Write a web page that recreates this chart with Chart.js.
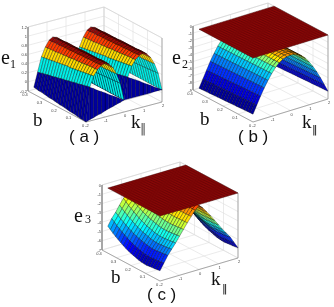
<!DOCTYPE html>
<html>
<head>
<meta charset="utf-8">
<script src="https://cdn.jsdelivr.net/npm/chart.js@4"></script>
<style>
  html, body { margin: 0; padding: 0; background: #fff; }
  #wrap { width: 334px; height: 307px; }
  canvas { display: block; filter: blur(0.45px); }
</style>
</head>
<body>
<div id="wrap"><canvas id="surfaceChart" width="334" height="307"></canvas></div>
<script>
const kValues = [-2,-1.8,-1.6,-1.4,-1.2,-1,-0.8,-0.6,-0.4,-0.2,0,0.2,0.4,0.6,0.8,1,1.2,1.4,1.6,1.8,2];
const bValues = [0,0.018,0.036,0.054,0.072,0.09,0.108,0.126,0.144,0.162,0.18,0.198,0.216,0.234,0.252,0.27,0.288,0.306,0.324,0.342,0.36];

const planeK = [-2,-1.84,-1.68,-1.52,-1.36,-1.2,-1.04,-0.88,-0.72,-0.56,-0.4,-0.24,-0.08,0.08,0.24,0.4,0.56,0.72,0.88,1.04,1.2,1.36,1.52,1.68,1.84,2];
const planeB = [0,0.0144,0.0288,0.0432,0.0576,0.072,0.0864,0.1008,0.1152,0.1296,0.144,0.1584,0.1728,0.1872,0.2016,0.216,0.2304,0.2448,0.2592,0.2736,0.288,0.3024,0.3168,0.3312,0.3456,0.36];
const e2Plane = 0;
const e3Plane = 0;

const kTicks = [-2,-1,0,1,2];
const bTicks = [0,0.1,0.2,0.3,0.4];
const e1Ticks = [-0.2,0,0.2,0.4,0.6,0.8,1,1.2];
const e2Ticks = [-9,-8,-7,-6,-5,-4,-3,-2,-1,0];
const e3Ticks = [-7,-6,-5,-4,-3,-2,-1,0];

const e1Values = [
[-.20,.54,.76,.88,.95,.98,.94,.84,.68,.45,.06,.54,.76,.88,.95,.98,.94,.84,.68,.45,.06],
[-.19,.53,.75,.87,.95,.98,.94,.84,.68,.45,.06,.53,.75,.87,.95,.98,.94,.84,.68,.45,.06],
[-.19,.51,.74,.87,.94,.98,.94,.84,.67,.44,.06,.51,.74,.87,.94,.98,.94,.84,.67,.44,.06],
[-.18,.50,.73,.86,.94,.97,.94,.83,.67,.44,.06,.50,.73,.86,.94,.97,.94,.83,.67,.44,.06],
[-.17,.48,.72,.86,.94,.97,.93,.83,.66,.43,.06,.48,.72,.86,.94,.97,.93,.83,.66,.43,.06],
[-.16,.47,.71,.85,.94,.97,.93,.83,.66,.43,.06,.47,.71,.85,.94,.97,.93,.83,.66,.43,.06],
[-.16,.46,.70,.84,.93,.97,.93,.83,.66,.42,.06,.46,.70,.84,.93,.97,.93,.83,.66,.42,.06],
[-.15,.44,.69,.84,.93,.97,.93,.83,.65,.42,.06,.44,.69,.84,.93,.97,.93,.83,.65,.42,.06],
[-.14,.43,.68,.83,.93,.96,.93,.82,.65,.41,.06,.43,.68,.83,.93,.96,.93,.82,.65,.41,.06],
[-.13,.41,.67,.83,.92,.96,.93,.82,.64,.41,.06,.41,.67,.83,.92,.96,.93,.82,.64,.41,.06],
[-.13,.40,.67,.82,.92,.96,.93,.82,.64,.40,.06,.40,.67,.82,.92,.96,.93,.82,.64,.40,.06],
[-.12,.39,.66,.81,.92,.96,.92,.82,.64,.40,.06,.39,.66,.81,.92,.96,.92,.82,.64,.40,.06],
[-.11,.37,.65,.81,.91,.96,.92,.82,.63,.39,.06,.37,.65,.81,.91,.96,.92,.82,.63,.39,.06],
[-.10,.36,.64,.80,.91,.95,.92,.81,.63,.39,.06,.36,.64,.80,.91,.95,.92,.81,.63,.39,.06],
[-.10,.34,.63,.80,.91,.95,.92,.81,.62,.38,.06,.34,.63,.80,.91,.95,.92,.81,.62,.38,.06],
[-.09,.33,.62,.79,.91,.95,.92,.81,.62,.38,.06,.33,.62,.79,.91,.95,.92,.81,.62,.38,.06],
[-.08,.32,.61,.78,.90,.95,.92,.81,.62,.37,.06,.32,.61,.78,.90,.95,.92,.81,.62,.37,.06],
[-.07,.30,.60,.78,.90,.95,.91,.81,.61,.37,.06,.30,.60,.78,.90,.95,.91,.81,.61,.37,.06],
[-.07,.29,.59,.77,.90,.94,.91,.80,.61,.36,.06,.29,.59,.77,.90,.94,.91,.80,.61,.36,.06],
[-.06,.27,.58,.77,.89,.94,.91,.80,.60,.36,.06,.27,.58,.77,.89,.94,.91,.80,.60,.36,.06],
[-.05,.26,.57,.76,.89,.94,.91,.80,.60,.35,.06,.26,.57,.76,.89,.94,.91,.80,.60,.35,.06]
];
const e1FrontLow = [-.20,-.17,-.15,-.12,-.10,-.07,-.04,-.02,.01,.03,.06,.06,.06,.06,.06,.06,.06,.06,.07,.07,.07];
const e1FrontHigh = [-.20,.54,.49,.43,.38,.33,.27,.22,.17,.11,.06,.54,.49,.44,.39,.33,.28,.23,.17,.12,.07];

const e2Values = [
[-7.90,-6.80,-5.70,-4.70,-3.80,-3.00,-2.30,-1.80,-1.45,-1.25,-1.20,-1.25,-1.45,-1.80,-2.30,-3.00,-3.80,-4.70,-5.70,-6.80,-7.90],
[-7.92,-6.82,-5.72,-4.72,-3.81,-3.01,-2.31,-1.81,-1.46,-1.25,-1.20,-1.25,-1.46,-1.81,-2.31,-3.01,-3.81,-4.72,-5.72,-6.82,-7.92],
[-7.94,-6.84,-5.74,-4.73,-3.83,-3.02,-2.32,-1.82,-1.46,-1.26,-1.20,-1.26,-1.46,-1.82,-2.32,-3.02,-3.83,-4.73,-5.74,-6.84,-7.94],
[-7.96,-6.86,-5.76,-4.75,-3.84,-3.03,-2.33,-1.82,-1.47,-1.26,-1.20,-1.26,-1.47,-1.82,-2.33,-3.03,-3.84,-4.75,-5.76,-6.86,-7.96],
[-7.98,-6.88,-5.78,-4.76,-3.85,-3.04,-2.34,-1.83,-1.47,-1.26,-1.20,-1.26,-1.47,-1.83,-2.34,-3.04,-3.85,-4.76,-5.78,-6.88,-7.98],
[-8.00,-6.90,-5.80,-4.78,-3.86,-3.05,-2.35,-1.84,-1.48,-1.26,-1.20,-1.26,-1.48,-1.84,-2.35,-3.05,-3.86,-4.78,-5.80,-6.90,-8.00],
[-8.02,-6.92,-5.82,-4.79,-3.88,-3.06,-2.36,-1.85,-1.48,-1.27,-1.20,-1.27,-1.48,-1.85,-2.36,-3.06,-3.88,-4.79,-5.82,-6.92,-8.02],
[-8.04,-6.94,-5.84,-4.81,-3.89,-3.07,-2.37,-1.85,-1.49,-1.27,-1.20,-1.27,-1.49,-1.85,-2.37,-3.07,-3.89,-4.81,-5.84,-6.94,-8.04],
[-8.06,-6.96,-5.86,-4.82,-3.90,-3.08,-2.38,-1.86,-1.49,-1.27,-1.20,-1.27,-1.49,-1.86,-2.38,-3.08,-3.90,-4.82,-5.86,-6.96,-8.06],
[-8.08,-6.98,-5.88,-4.84,-3.91,-3.09,-2.39,-1.87,-1.50,-1.27,-1.20,-1.27,-1.50,-1.87,-2.39,-3.09,-3.91,-4.84,-5.88,-6.98,-8.08],
[-8.10,-7.00,-5.90,-4.85,-3.93,-3.10,-2.40,-1.88,-1.50,-1.28,-1.20,-1.28,-1.50,-1.88,-2.40,-3.10,-3.93,-4.85,-5.90,-7.00,-8.10],
[-8.12,-7.02,-5.92,-4.87,-3.94,-3.11,-2.41,-1.88,-1.51,-1.28,-1.20,-1.28,-1.51,-1.88,-2.41,-3.11,-3.94,-4.87,-5.92,-7.02,-8.12],
[-8.14,-7.04,-5.94,-4.88,-3.95,-3.12,-2.42,-1.89,-1.51,-1.28,-1.20,-1.28,-1.51,-1.89,-2.42,-3.12,-3.95,-4.88,-5.94,-7.04,-8.14],
[-8.16,-7.06,-5.96,-4.90,-3.96,-3.13,-2.43,-1.90,-1.52,-1.28,-1.20,-1.28,-1.52,-1.90,-2.43,-3.13,-3.96,-4.90,-5.96,-7.06,-8.16],
[-8.18,-7.08,-5.98,-4.91,-3.98,-3.14,-2.44,-1.91,-1.52,-1.29,-1.20,-1.29,-1.52,-1.91,-2.44,-3.14,-3.98,-4.91,-5.98,-7.08,-8.18],
[-8.20,-7.10,-6.00,-4.93,-3.99,-3.15,-2.45,-1.91,-1.53,-1.29,-1.20,-1.29,-1.53,-1.91,-2.45,-3.15,-3.99,-4.93,-6.00,-7.10,-8.20],
[-8.22,-7.12,-6.02,-4.94,-4.00,-3.16,-2.46,-1.92,-1.53,-1.29,-1.20,-1.29,-1.53,-1.92,-2.46,-3.16,-4.00,-4.94,-6.02,-7.12,-8.22],
[-8.24,-7.14,-6.04,-4.96,-4.01,-3.17,-2.47,-1.93,-1.54,-1.29,-1.20,-1.29,-1.54,-1.93,-2.47,-3.17,-4.01,-4.96,-6.04,-7.14,-8.24],
[-8.26,-7.16,-6.06,-4.97,-4.03,-3.18,-2.48,-1.94,-1.54,-1.30,-1.20,-1.30,-1.54,-1.94,-2.48,-3.18,-4.03,-4.97,-6.06,-7.16,-8.26],
[-8.28,-7.18,-6.08,-4.99,-4.04,-3.19,-2.49,-1.94,-1.55,-1.30,-1.20,-1.30,-1.55,-1.94,-2.49,-3.19,-4.04,-4.99,-6.08,-7.18,-8.28],
[-8.30,-7.20,-6.10,-5.00,-4.05,-3.20,-2.50,-1.95,-1.55,-1.30,-1.20,-1.30,-1.55,-1.95,-2.50,-3.20,-4.05,-5.00,-6.10,-7.20,-8.30]
];

const e3Values = [
[-5.90,-5.20,-4.50,-3.95,-3.40,-2.80,-2.20,-1.60,-1.05,-.50,-.10,-.50,-1.05,-1.60,-2.20,-2.80,-3.40,-3.95,-4.50,-5.20,-5.90],
[-5.94,-5.24,-4.53,-3.99,-3.44,-2.83,-2.22,-1.62,-1.06,-.50,-.10,-.50,-1.06,-1.62,-2.22,-2.83,-3.44,-3.99,-4.53,-5.24,-5.94],
[-5.99,-5.29,-4.58,-4.04,-3.49,-2.88,-2.26,-1.65,-1.08,-.51,-.10,-.51,-1.08,-1.65,-2.26,-2.88,-3.49,-4.04,-4.58,-5.29,-5.99],
[-6.01,-5.31,-4.60,-4.06,-3.51,-2.90,-2.28,-1.65,-1.08,-.51,-.10,-.51,-1.08,-1.65,-2.28,-2.90,-3.51,-4.06,-4.60,-5.31,-6.01],
[-6.04,-5.34,-4.63,-4.09,-3.54,-2.93,-2.30,-1.67,-1.09,-.52,-.10,-.52,-1.09,-1.67,-2.30,-2.93,-3.54,-4.09,-4.63,-5.34,-6.04],
[-6.08,-5.38,-4.67,-4.13,-3.58,-2.96,-2.33,-1.69,-1.11,-.52,-.10,-.52,-1.11,-1.69,-2.33,-2.96,-3.58,-4.13,-4.67,-5.38,-6.08],
[-6.08,-5.38,-4.67,-4.13,-3.58,-2.96,-2.33,-1.69,-1.11,-.52,-.10,-.52,-1.11,-1.69,-2.33,-2.96,-3.58,-4.13,-4.67,-5.38,-6.08],
[-6.04,-5.34,-4.63,-4.09,-3.54,-2.93,-2.30,-1.67,-1.09,-.52,-.10,-.52,-1.09,-1.67,-2.30,-2.93,-3.54,-4.09,-4.63,-5.34,-6.04],
[-5.99,-5.29,-4.58,-4.04,-3.49,-2.88,-2.26,-1.65,-1.08,-.51,-.10,-.51,-1.08,-1.65,-2.26,-2.88,-3.49,-4.04,-4.58,-5.29,-5.99],
[-5.90,-5.20,-4.50,-3.95,-3.40,-2.80,-2.20,-1.60,-1.05,-.50,-.10,-.50,-1.05,-1.60,-2.20,-2.80,-3.40,-3.95,-4.50,-5.20,-5.90],
[-5.81,-5.11,-4.42,-3.86,-3.31,-2.72,-2.14,-1.56,-1.02,-.49,-.10,-.49,-1.02,-1.56,-2.14,-2.72,-3.31,-3.86,-4.42,-5.11,-5.81],
[-5.72,-5.02,-4.34,-3.78,-3.22,-2.64,-2.08,-1.51,-.99,-.48,-.10,-.48,-.99,-1.51,-2.08,-2.64,-3.22,-3.78,-4.34,-5.02,-5.72],
[-5.61,-4.91,-4.24,-3.67,-3.11,-2.54,-2.00,-1.46,-.96,-.47,-.10,-.47,-.96,-1.46,-2.00,-2.54,-3.11,-3.67,-4.24,-4.91,-5.61],
[-5.47,-4.77,-4.10,-3.53,-2.97,-2.42,-1.90,-1.38,-.92,-.45,-.10,-.45,-.92,-1.38,-1.90,-2.42,-2.97,-3.53,-4.10,-4.77,-5.47],
[-5.32,-4.62,-3.97,-3.39,-2.82,-2.29,-1.80,-1.31,-.87,-.44,-.10,-.44,-.87,-1.31,-1.80,-2.29,-2.82,-3.39,-3.97,-4.62,-5.32],
[-5.14,-4.44,-3.81,-3.21,-2.64,-2.13,-1.68,-1.22,-.82,-.42,-.10,-.42,-.82,-1.22,-1.68,-2.13,-2.64,-3.21,-3.81,-4.44,-5.14],
[-4.96,-4.26,-3.64,-3.04,-2.46,-1.97,-1.55,-1.13,-.76,-.40,-.10,-.40,-.76,-1.13,-1.55,-1.97,-2.46,-3.04,-3.64,-4.26,-4.96],
[-4.77,-4.07,-3.46,-2.85,-2.27,-1.79,-1.41,-1.03,-.70,-.37,-.10,-.37,-.70,-1.03,-1.41,-1.79,-2.27,-2.85,-3.46,-4.07,-4.77],
[-4.57,-3.87,-3.28,-2.65,-2.07,-1.62,-1.28,-.93,-.64,-.35,-.10,-.35,-.64,-.93,-1.28,-1.62,-2.07,-2.65,-3.28,-3.87,-4.57],
[-4.33,-3.63,-3.06,-2.43,-1.83,-1.41,-1.11,-.82,-.57,-.33,-.10,-.33,-.57,-.82,-1.11,-1.41,-1.83,-2.43,-3.06,-3.63,-4.33],
[-4.10,-3.40,-2.85,-2.20,-1.60,-1.20,-.95,-.70,-.50,-.30,-.10,-.30,-.50,-.70,-.95,-1.20,-1.60,-2.20,-2.85,-3.40,-4.10]
];

// colour of each k strip of e1 and e2
const e1Strips = ['#00009e','#00f0e8','#ffd800','#ff3c00','#960808','#960808','#ff3c00','#ffd800','#00f0e8','#00f0e8',
                  '#00009e','#00f0e8','#ffd800','#ff3c00','#960808','#960808','#ff3c00','#ffd800','#00f0e8','#00f0e8'];
const e2Strips = ['#00009a','#0000d8','#0030ff','#0080ff','#00c8ff','#30ffd0','#90ff70','#ffe800','#ffb000','#ff9800',
                  '#ff9000','#ff9800','#ffb000','#ffe800','#90ff70','#30ffd0','#00c8ff','#0080ff','#0030ff','#0000d8'];
// e3 takes its colour from height, low and span of the colour map
const e3ColorLow = -6.1;
const e3ColorSpan = 7.25;

const panels = [
    { origin: [86, 122], kVec: [76, -20], bVec: [-58, -31], zVec: [0, -64], zMin: -0.2, zMax: 1.2,
      values: e1Values, strips: e1Strips, zTicks: e1Ticks, front: [e1FrontLow, e1FrontHigh] },
    { origin: [253, 122], kVec: [75, -23], bVec: [-60, -32], zVec: [0, -64], zMin: -9, zMax: 0,
      values: e2Values, strips: e2Strips, zTicks: e2Ticks, plane: e2Plane },
    { origin: [160, 281], kVec: [78, -23], bVec: [-58, -31], zVec: [0, -65], zMin: -7, zMax: 0,
      values: e3Values, colorLow: e3ColorLow, colorSpan: e3ColorSpan, zTicks: e3Ticks, plane: e3Plane }
];

const labels = [
    { text: 'e', x: 1, y: 64, font: '20px "Liberation Serif"' },
    { text: '1', x: 10, y: 68, font: '12px "Liberation Serif"' },
    { text: 'b', x: 33, y: 126, font: '19px "Liberation Serif"' },
    { text: 'k', x: 131, y: 128, font: '19px "Liberation Serif"' },
    { text: '\u2016', x: 140, y: 133, font: 'bold 12px "DejaVu Sans"', color: '#777' },
    { text: '( a )', x: 69, y: 142, font: '17px "Liberation Sans"' },
    { text: 'e', x: 172, y: 64, font: '20px "Liberation Serif"' },
    { text: '2', x: 182, y: 68, font: '12px "Liberation Serif"' },
    { text: 'b', x: 200, y: 125, font: '19px "Liberation Serif"' },
    { text: 'k', x: 302, y: 128, font: '19px "Liberation Serif"' },
    { text: '\u2016', x: 312, y: 133, font: '11px "DejaVu Sans"' },
    { text: '( b )', x: 238, y: 142, font: '17px "Liberation Sans"' },
    { text: 'e', x: 74, y: 222, font: '20px "Liberation Serif"' },
    { text: '3', x: 85, y: 223, font: '12px "Liberation Serif"' },
    { text: 'b', x: 111, y: 283, font: '19px "Liberation Serif"' },
    { text: 'k', x: 211, y: 285, font: '19px "Liberation Serif"' },
    { text: '\u2016', x: 222, y: 292, font: '11px "DejaVu Sans"' },
    { text: '( c )', x: 147, y: 300, font: '17px "Liberation Sans"' }
];

function project(p, k, b, z) {
    const kf = (k + 2) / 4;
    const bf = b / 0.4;
    const zf = (z - p.zMin) / (p.zMax - p.zMin);
    return {
        x: p.origin[0] + kf * p.kVec[0] + bf * p.bVec[0] + zf * p.zVec[0],
        y: p.origin[1] + kf * p.kVec[1] + bf * p.bVec[1] + zf * p.zVec[1]
    };
}

function lineSet(points, color, width) {
    return { data: points, showLine: true, fill: false, borderColor: color, borderWidth: width, pointRadius: 0, tension: 0 };
}

function quadSet(points, color, edge, width) {
    return { data: points.concat([points[0]]), showLine: true, fill: 'shape', backgroundColor: color,
             borderColor: edge, borderWidth: width, pointRadius: 0, tension: 0 };
}

function jet(t) {
    const part = function (c) { return Math.round(255 * Math.max(0, Math.min(1, 1.5 - Math.abs(4 * t - c)))); };
    return 'rgb(' + part(3) + ',' + part(2) + ',' + part(1) + ')';
}

function facetColor(p, i, j) {
    if (p.strips) return p.strips[j];
    const mean = (p.values[i][j] + p.values[i][j + 1] + p.values[i + 1][j] + p.values[i + 1][j + 1]) / 4;
    return jet((mean - p.colorLow) / p.colorSpan);
}

const layers = [];

panels.forEach(function (p) {
    // grid on the floor and the two back walls
    p.zTicks.forEach(function (z) {
        layers.push(lineSet([project(p, -2, 0.4, z), project(p, 2, 0.4, z), project(p, 2, 0, z)], '#dedede', 0.6));
    });
    kTicks.forEach(function (k) {
        layers.push(lineSet([project(p, k, 0, p.zMin), project(p, k, 0.4, p.zMin), project(p, k, 0.4, p.zMax)], '#dedede', 0.6));
    });
    bTicks.forEach(function (b) {
        layers.push(lineSet([project(p, -2, b, p.zMin), project(p, 2, b, p.zMin), project(p, 2, b, p.zMax)], '#dedede', 0.6));
    });
    layers.push(lineSet([project(p, -2, 0.4, p.zMax), project(p, 2, 0.4, p.zMax), project(p, 2, 0, p.zMax)], '#d0d0d0', 0.6));
    layers.push(lineSet([project(p, 2, 0.4, p.zMin), project(p, 2, 0.4, p.zMax)], '#d0d0d0', 0.6));
    layers.push(lineSet([project(p, -2, 0.4, p.zMax), project(p, -2, 0.4, p.zMin), project(p, -2, 0, p.zMin), project(p, 2, 0, p.zMin), project(p, 2, 0, p.zMax)], '#8a8a8a', 0.7));

    // surface, far facets first
    for (let i = bValues.length - 2; i >= 0; i--) {
        for (let j = kValues.length - 2; j >= 0; j--) {
            layers.push(quadSet([
                project(p, kValues[j], bValues[i], p.values[i][j]),
                project(p, kValues[j + 1], bValues[i], p.values[i][j + 1]),
                project(p, kValues[j + 1], bValues[i + 1], p.values[i + 1][j + 1]),
                project(p, kValues[j], bValues[i + 1], p.values[i + 1][j])
            ], facetColor(p, i, j), 'rgba(0,0,0,0.55)', 0.6));
        }
    }

    // blue front skirt of e1
    if (p.front) {
        for (let j = kValues.length - 2; j >= 0; j--) {
            layers.push(quadSet([
                project(p, kValues[j], 0, p.front[0][j]),
                project(p, kValues[j + 1], 0, p.front[0][j + 1]),
                project(p, kValues[j + 1], 0, p.front[1][j + 1]),
                project(p, kValues[j], 0, p.front[1][j])
            ], '#00009e', 'rgba(0,0,0,0.4)', 0.5));
        }
    }

    // flat top sheet
    if (p.plane !== undefined) {
        const kLast = planeK[planeK.length - 1];
        const bLast = planeB[planeB.length - 1];
        layers.push(quadSet([
            project(p, planeK[0], planeB[0], p.plane),
            project(p, kLast, planeB[0], p.plane),
            project(p, kLast, bLast, p.plane),
            project(p, planeK[0], bLast, p.plane)
        ], '#8c0808', 'rgba(60,0,0,0.6)', 0.5));
        planeK.forEach(function (k) {
            layers.push(lineSet([project(p, k, planeB[0], p.plane), project(p, k, bLast, p.plane)], 'rgba(50,0,0,0.4)', 0.5));
        });
        planeB.forEach(function (b) {
            layers.push(lineSet([project(p, planeK[0], b, p.plane), project(p, kLast, b, p.plane)], 'rgba(50,0,0,0.4)', 0.5));
        });
    }
});

const textPlugin = {
    id: 'panelText',
    afterDatasetsDraw(chart) {
        const ctx = chart.ctx;
        const xs = chart.scales.x;
        const ys = chart.scales.y;
        ctx.save();
        ctx.textBaseline = 'alphabetic';
        panels.forEach(function (p) {
            ctx.font = '4px "Liberation Sans"';
            ctx.fillStyle = '#444';
            ctx.textAlign = 'right';
            p.zTicks.forEach(function (z) {
                const pt = project(p, -2, 0.4, z);
                ctx.fillText(String(z), xs.getPixelForValue(pt.x) - 1, ys.getPixelForValue(pt.y) + 1.5);
            });
            ctx.textAlign = 'center';
            bTicks.forEach(function (b) {
                const pt = project(p, -2, b, p.zMin);
                ctx.fillText(String(b), xs.getPixelForValue(pt.x) - 3, ys.getPixelForValue(pt.y) + 5);
            });
            kTicks.forEach(function (k) {
                const pt = project(p, k, 0, p.zMin);
                ctx.fillText(String(k), xs.getPixelForValue(pt.x) + 1, ys.getPixelForValue(pt.y) + 5);
            });
        });
        ctx.textAlign = 'left';
        labels.forEach(function (l) {
            ctx.font = l.font;
            ctx.fillStyle = l.color || '#111';
            ctx.fillText(l.text, xs.getPixelForValue(l.x), ys.getPixelForValue(l.y));
        });
        ctx.restore();
    }
};

new Chart(document.getElementById('surfaceChart').getContext('2d'), {
    type: 'scatter',
    // Chart.js paints the first dataset last, so the stack goes in reversed
    data: { datasets: layers.slice().reverse() },
    options: {
        responsive: false,
        animation: false,
        events: [],
        layout: { padding: 0 },
        plugins: { legend: { display: false }, tooltip: { enabled: false } },
        scales: {
            x: { type: 'linear', min: 0, max: 334, display: false },
            y: { type: 'linear', min: 0, max: 307, reverse: true, display: false }
        }
    },
    plugins: [textPlugin]
});
</script>
</body>
</html>
